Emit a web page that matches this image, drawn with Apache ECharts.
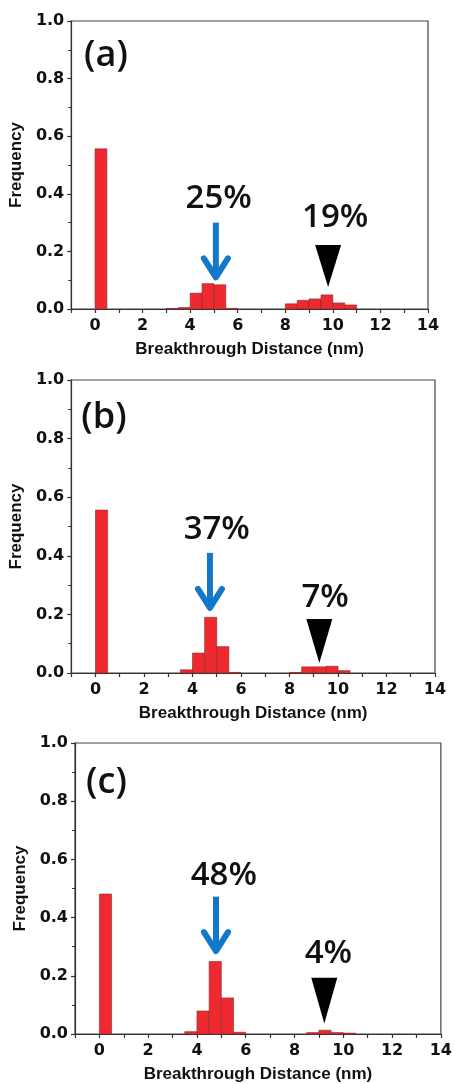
<!DOCTYPE html>
<html>
<head>
<meta charset="utf-8">
<script src="https://cdn.jsdelivr.net/npm/echarts@6/dist/echarts.min.js"></script>
<style>
  html, body { margin: 0; padding: 0; background: #fff; }
  #chart { width: 455px; height: 1084px; }
</style>
</head>
<body>
<div id="chart"></div>
<script>
// histogram bins: start of each 0.5 nm bin and its frequency
const BIN_WIDTH = 0.5;

const binsA = [0, 3, 3.5, 4, 4.5, 5, 5.5, 8, 8.5, 9, 9.5, 10, 10.5];
const freqA = [0.556, 0.002, 0.005, 0.055, 0.088, 0.084, 0.002, 0.018, 0.030, 0.035, 0.049, 0.021, 0.014];

const binsB = [0, 3.5, 4, 4.5, 5, 5.5, 8, 8.5, 9, 9.5, 10];
const freqB = [0.556, 0.011, 0.068, 0.190, 0.090, 0.002, 0.002, 0.021, 0.021, 0.023, 0.008];

const binsC = [0, 3.5, 4, 4.5, 5, 5.5, 8.5, 9, 9.5, 10];
const freqC = [0.481, 0.008, 0.079, 0.249, 0.124, 0.006, 0.005, 0.013, 0.005, 0.003];

const panelLabels = ['(a)', '(b)', '(c)'];
const xTicks = [0, 2, 4, 6, 8, 10, 12, 14];
const yTicks = [0, 0.2, 0.4, 0.6, 0.8, 1.0];

// annotations in data coordinates: [x, y]
const notes = [
  { tag: [0.46, 0.88], pct: '25%', pctAt: [5.2, 0.382], arrow: [5.08, 0.30, 0.11], peak: '19%', peakAt: [10.1, 0.316], tri: [9.8, 0.222, 0.076] },
  { tag: [0.35, 0.87], pct: '37%', pctAt: [5.0, 0.488], arrow: [4.72, 0.41, 0.222], peak: '7%', peakAt: [9.47, 0.259], tri: [9.23, 0.184, 0.034] },
  { tag: [0.29, 0.865], pct: '48%', pctAt: [5.1, 0.543], arrow: [4.78, 0.472, 0.285], peak: '4%', peakAt: [9.39, 0.278], tri: [9.22, 0.193, 0.036] }
];

const grids = [
  { left: 68, right: 27, top: 21, height: 288 },
  { left: 71, right: 20, top: 380, height: 293 },
  { left: 75, right: 12, top: 743, height: 294 }
];

const chart = echarts.init(document.getElementById('chart'), null, { renderer: 'canvas' });

function renderBin(params, api) {
  const x0 = api.value(0);
  const v = api.value(1);
  const p0 = api.coord([x0, 0]);
  const p1 = api.coord([x0 + BIN_WIDTH, v]);
  return {
    type: 'rect',
    shape: { x: p0[0], y: p1[1], width: p1[0] - p0[0], height: p0[1] - p1[1] },
    style: { fill: '#ee2a30', stroke: '#8a2a2a', lineWidth: 0.6 }
  };
}

const tickFont = { fontFamily: 'DejaVu Sans', fontWeight: 'bold', fontSize: 16, color: '#111' };
const nameFont = { fontFamily: 'Liberation Sans', fontWeight: 'bold', fontSize: 17, color: '#111' };

const xAxes = grids.map((g, i) => ({
  type: 'value', gridIndex: i, min: -1, max: 14, interval: 1,
  axisLine: { show: true, onZero: false, lineStyle: { color: '#333', width: 1.2 } },
  axisTick: { show: true, length: 4, inside: false, lineStyle: { color: '#333', width: 1.2 } },
  axisLabel: {
    margin: 9, ...tickFont,
    formatter: v => (xTicks.indexOf(v) >= 0 ? String(v) : '')
  },
  splitLine: { show: false },
  name: 'Breakthrough Distance (nm)', nameLocation: 'middle', nameGap: 32,
  nameTextStyle: nameFont
}));

const yAxes = grids.map((g, i) => ({
  type: 'value', gridIndex: i, min: yTicks[0], max: yTicks[yTicks.length - 1], interval: 0.2,
  axisLine: { show: true, onZero: false, lineStyle: { color: '#333', width: 1.2 } },
  axisTick: { show: true, length: 4, lineStyle: { color: '#333', width: 1.2 } },
  minorTick: { show: true, splitNumber: 2, length: 3, lineStyle: { color: '#333', width: 1 } },
  axisLabel: { margin: 7, ...tickFont, formatter: v => v.toFixed(1) },
  splitLine: { show: false },
  name: 'Frequency', nameLocation: 'middle', nameGap: 40,
  nameTextStyle: nameFont
}));

const binSets = [[binsA, freqA], [binsB, freqB], [binsC, freqC]];

chart.setOption({
  animation: false,
  grid: grids.map(g => ({ ...g, show: true, borderColor: '#444', borderWidth: 1.2, backgroundColor: 'transparent' })),
  xAxis: xAxes,
  yAxis: yAxes,
  series: binSets.map((set, i) => ({
    type: 'custom', xAxisIndex: i, yAxisIndex: i,
    renderItem: renderBin,
    data: set[0].map((b, k) => [b, set[1][k]])
  }))
});

// annotations placed from data coordinates
const graphics = [];
notes.forEach((n, i) => {
  const px = p => chart.convertToPixel({ gridIndex: i }, p);
  const tag = px(n.tag);
  graphics.push({
    type: 'text', x: tag[0], y: tag[1],
    style: { text: panelLabels[i], fontFamily: 'Open Sans', fontWeight: 600, fontSize: 36, fill: '#111', align: 'center', verticalAlign: 'middle' }
  });
  [[n.pct, n.pctAt], [n.peak, n.peakAt]].forEach(t => {
    const p = px(t[1]);
    graphics.push({
      type: 'text', x: p[0], y: p[1],
      style: { text: t[0], fontFamily: 'Open Sans', fontWeight: 600, fontSize: 33, fill: '#111', align: 'center', verticalAlign: 'middle' }
    });
  });
  const aTop = px([n.arrow[0], n.arrow[1]]);
  const aTip = px([n.arrow[0], n.arrow[2]]);
  graphics.push({
    type: 'polyline', shape: { points: [aTop, aTip] },
    style: { stroke: '#1478c8', lineWidth: 6, lineCap: 'butt' }
  });
  graphics.push({
    type: 'polyline', shape: { points: [[aTip[0] - 12, aTip[1] - 19], aTip, [aTip[0] + 12, aTip[1] - 19]] },
    style: { stroke: '#1478c8', lineWidth: 6, lineCap: 'round', lineJoin: 'round', fill: null }
  });
  const tTop = px([n.tri[0], n.tri[1]]);
  const tTip = px([n.tri[0], n.tri[2]]);
  graphics.push({
    type: 'polygon',
    shape: { points: [[tTop[0] - 13, tTop[1]], [tTop[0] + 13, tTop[1]], tTip] },
    style: { fill: '#000' }
  });
});
chart.setOption({ graphic: graphics });
</script>
</body>
</html>
